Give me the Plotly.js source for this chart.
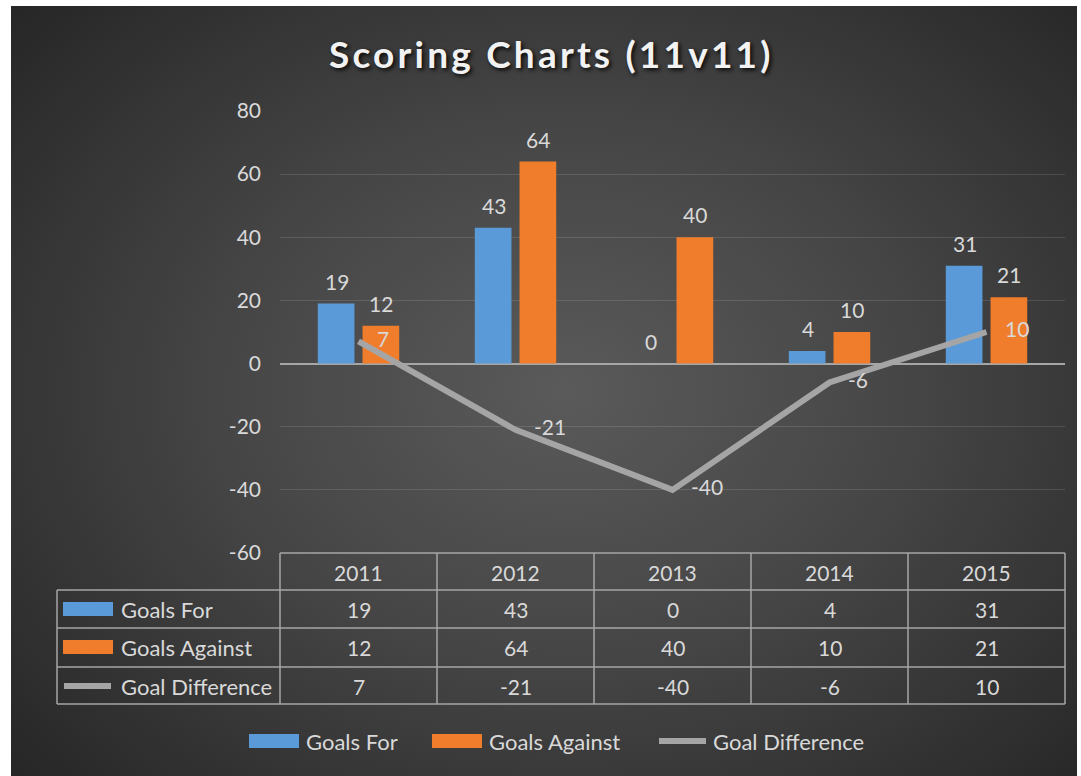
<!DOCTYPE html>
<html>
<head>
<meta charset="utf-8">
<script src="https://cdn.plot.ly/plotly-3.0.1.min.js"></script>
<style>
  body { margin: 0; background: #fff; }
  #bg {
    position: absolute; left: 11px; top: 6px; width: 1066px; height: 770px;
    background: radial-gradient(ellipse 70% 75% at 52% 50%, #5a5a5a 0%, #464646 45%, #262626 100%);
  }
  #chart { position: absolute; left: 0; top: 0; width: 1081px; height: 776px; }
  #chart .gtitle { letter-spacing: 3.2px; }
</style>
</head>
<body>
<div id="bg"></div>
<div id="chart"></div>
<script>
var years = ['2011', '2012', '2013', '2014', '2015'];
var goalsFor = [19, 43, 0, 4, 31];
var goalsAgainst = [12, 64, 40, 10, 21];
var goalDiff = [7, -21, -40, -6, 10];
var seriesNames = ['Goals For', 'Goals Against', 'Goal Difference'];
var yTicks = [-60, -40, -20, 0, 20, 40, 60, 80];
var yTickText = ['-60', '-40', '-20', '0', '20', '40', '60', '80'];

var blue = '#5a9ad8', orange = '#f07d2c', gray = '#a5a5a5';
var txt = '#d9d9d9';
var fnt = 'Lato, "Open Sans", sans-serif';
var fs = 21;

// plot area in pixels: x 280..1065, y 111..553
var W = 1081, H = 776, L = 280, R = 16, T = 111, B = 223;
function px(x) { return (x - L) / (W - L - R); }
function py(y) { return (H - B - y) / (H - T - B); }

var data = [
  {type: 'bar', name: seriesNames[0], x: years, y: goalsFor, marker: {color: blue}},
  {type: 'bar', name: seriesNames[1], x: years, y: goalsAgainst, marker: {color: orange}},
  {
    type: 'scatter', mode: 'lines+markers+text', name: seriesNames[2], x: years, y: goalDiff,
    line: {color: gray, width: 6},
    marker: {size: 28, color: 'rgba(0,0,0,0)'},
    text: goalDiff.map(String), textposition: 'middle right', cliponaxis: false,
    textfont: {color: txt, size: fs, family: fnt}
  }
];

var shapes = [];
var annotations = [];
var lineStyle = {color: '#a6a6a6', width: 1.5};

// bar value labels, sitting a little above each bar
[goalsFor, goalsAgainst].forEach(function (vals, s) {
  vals.forEach(function (v, i) {
    annotations.push({xref: 'x', yref: 'y', x: i, y: v, text: String(v), showarrow: false,
      xanchor: 'center', yanchor: 'bottom', xshift: s === 0 ? -22 : 22, yshift: 8,
      font: {color: txt, size: fs, family: fnt}});
  });
});

// table grid
var rowsY = [553, 590, 628, 667, 704];
var colsX = [280, 437, 594, 751, 908, 1065];
shapes.push({type: 'line', xref: 'paper', yref: 'paper', x0: px(280), x1: px(1065), y0: py(553), y1: py(553), line: lineStyle});
for (var r = 1; r < rowsY.length; r++) {
  shapes.push({type: 'line', xref: 'paper', yref: 'paper', x0: px(57), x1: px(1065), y0: py(rowsY[r]), y1: py(rowsY[r]), line: lineStyle});
}
shapes.push({type: 'line', xref: 'paper', yref: 'paper', x0: px(57), x1: px(57), y0: py(590), y1: py(704), line: lineStyle});
colsX.forEach(function (cx) {
  shapes.push({type: 'line', xref: 'paper', yref: 'paper', x0: px(cx), x1: px(cx), y0: py(553), y1: py(704), line: lineStyle});
});

function cell(i, y, s) {
  annotations.push({xref: 'paper', yref: 'paper', x: (i + 0.5) / years.length, y: py(y), text: s, showarrow: false,
    xanchor: 'center', yanchor: 'middle', font: {color: txt, size: fs, family: fnt}});
}
var rowMid = [572, 609, 647, 686];
years.forEach(function (yr, i) {
  cell(i, rowMid[0], yr);
  cell(i, rowMid[1], String(goalsFor[i]));
  cell(i, rowMid[2], String(goalsAgainst[i]));
  cell(i, rowMid[3], String(goalDiff[i]));
});

// legend keys (table first column and bottom legend)
function key(i, x, y, textX) {
  if (i < 2) {
    shapes.push({type: 'rect', xref: 'paper', yref: 'paper', x0: px(x), x1: px(x + 50), y0: py(y - 7), y1: py(y + 7),
      fillcolor: i === 0 ? blue : orange, line: {width: 0}});
  } else {
    shapes.push({type: 'line', xref: 'paper', yref: 'paper', x0: px(x + 3), x1: px(x + 50), y0: py(y), y1: py(y),
      line: {color: gray, width: 6}});
  }
  annotations.push({xref: 'paper', yref: 'paper', x: px(textX), y: py(y), text: seriesNames[i], showarrow: false,
    xanchor: 'left', yanchor: 'middle', font: {color: txt, size: 22, family: fnt}});
}
key(0, 63, 609, 119);
key(1, 63, 647, 119);
key(2, 61, 686, 119);
key(0, 249, 741, 304);
key(1, 432, 741, 487);
key(2, 656, 741, 711);

var layout = {
  width: W, height: H,
  margin: {l: L, r: R, t: T, b: B},
  paper_bgcolor: 'rgba(0,0,0,0)',
  plot_bgcolor: 'rgba(0,0,0,0)',
  title: {
    text: 'Scoring Charts (11v11)',
    xref: 'container', x: 0.51, xanchor: 'center',
    yref: 'container', y: 1 - 55 / H, yanchor: 'middle',
    font: {family: fnt, size: 37, weight: 'bold', color: '#f2f2f2', shadow: '2px 2px 4px rgba(0,0,0,0.9)'}
  },
  showlegend: false,
  barmode: 'group', bargap: 0.43, bargroupgap: 0.18,
  xaxis: {type: 'category', range: [-0.5, 4.5], showticklabels: false, showgrid: false, zeroline: false, fixedrange: true},
  yaxis: {
    range: [-60, 80], tickvals: yTicks, ticktext: yTickText,
    gridcolor: 'rgba(255,255,255,0.12)', gridwidth: 1,
    zeroline: true, zerolinecolor: '#a6a6a6', zerolinewidth: 2,
    tickfont: {color: txt, size: fs, family: fnt},
    ticklabelstandoff: 18,
    showline: false
  },
  shapes: shapes,
  annotations: annotations
};

Plotly.newPlot('chart', data, layout, {displayModeBar: false, staticPlot: true});
</script>
</body>
</html>
